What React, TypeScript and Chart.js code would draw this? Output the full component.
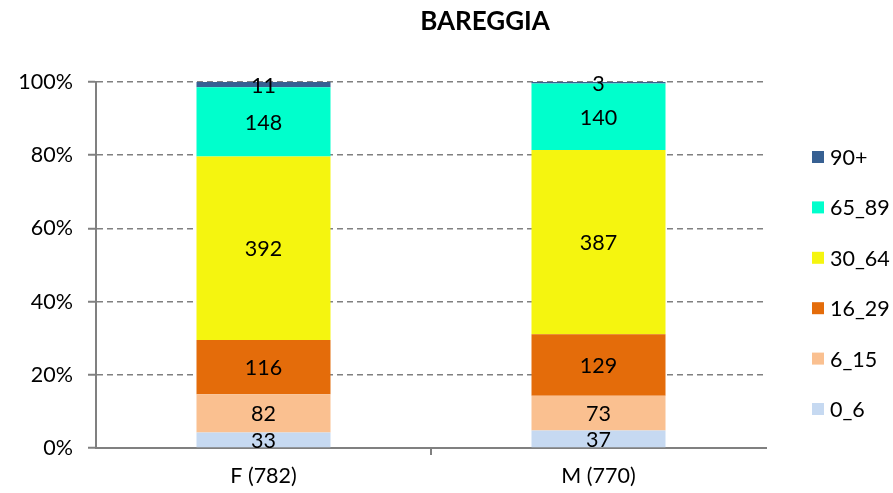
import React, { useEffect, useRef } from 'react';
import { Chart, registerables } from 'chart.js';

Chart.register(...registerables);

const chartTitle = 'BAREGGIA';
const categories = ['F (782)', 'M (770)'];
const seriesNames = ['0_6', '6_15', '16_29', '30_64', '65_89', '90+'];
const v0_6 = [33, 37];
const v6_15 = [82, 73];
const v16_29 = [116, 129];
const v30_64 = [392, 387];
const v65_89 = [148, 140];
const v90 = [11, 3];
const yTickValues = [0, 20, 40, 60, 80, 100];
const seriesColors = ['#C6D9F1', '#FAC090', '#E46C0A', '#F5F50F', '#00FFCC', '#376092'];

const FONT = 'Lato, "Open Sans", sans-serif';

export default function App() {
  const ref = useRef<HTMLCanvasElement | null>(null);

  useEffect(() => {
    const canvas = ref.current;
    if (!canvas) return;
    const seriesValues = [v0_6, v6_15, v16_29, v30_64, v65_89, v90];
    const totals = categories.map((_, i) => seriesValues.reduce((s, arr) => s + arr[i], 0));

    const datasets = seriesNames.map((name, k) => ({
      label: name,
      data: seriesValues[k].map((v, i) => (v / totals[i]) * 100),
      counts: seriesValues[k],
      backgroundColor: seriesColors[k],
      borderWidth: 0,
      barPercentage: 0.4,
      categoryPercentage: 1,
    }));

    const segLabels = {
      id: 'segLabels',
      afterDatasetsDraw(chart: any) {
        const ctx = chart.ctx;
        ctx.save();
        ctx.font = `21.5px ${FONT}`;
        ctx.fillStyle = '#000';
        ctx.textAlign = 'center';
        ctx.textBaseline = 'middle';
        chart.data.datasets.forEach((ds: any, di: number) => {
          const meta = chart.getDatasetMeta(di);
          meta.data.forEach((el: any, i: number) => {
            const y = (el.y + el.base) / 2;
            ctx.fillText(String(ds.counts[i]), el.x, y + 1);
          });
        });
        ctx.restore();
      },
    };

    const sideLegend = {
      id: 'sideLegend',
      afterDraw(chart: any) {
        const ctx = chart.ctx;
        const area = chart.chartArea;
        ctx.save();
        ctx.font = `21.5px ${FONT}`;
        ctx.textBaseline = 'middle';
        ctx.textAlign = 'left';
        const n = chart.data.datasets.length;
        const x0 = area.right + 46;
        const top = area.top + 75;
        const step = 50.4;
        for (let k = 0; k < n; k++) {
          const ds = chart.data.datasets[n - 1 - k];
          const cy = top + k * step;
          ctx.fillStyle = ds.backgroundColor;
          ctx.fillRect(x0, cy - 6, 12, 12);
          ctx.fillStyle = '#000';
          ctx.fillText(ds.label, x0 + 18, cy + 1);
        }
        // title
        ctx.font = `bold 26px ${FONT}`;
        ctx.textAlign = 'center';
        ctx.fillText(chartTitle, 485, 22);
        ctx.restore();
      },
    };

    const chart = new Chart(canvas, {
      type: 'bar',
      data: { labels: categories, datasets: datasets as any },
      options: {
        responsive: false,
        animation: false,
        layout: { padding: { top: 82, right: 127, left: 0, bottom: 0 } },
        plugins: {
          legend: { display: false },
          title: { display: false },
          tooltip: { enabled: false },
        },
        scales: {
          x: {
            stacked: true,
            afterFit: (s: any) => {
              s.height = 45;
            },
            grid: {
              display: true,
              drawOnChartArea: false,
              drawTicks: true,
              tickLength: 7,
              color: '#808080',
              tickColor: (c: any) => (c.index === 1 ? '#808080' : 'rgba(0,0,0,0)'),
              lineWidth: 2,
            },
            border: { display: true, color: '#808080', width: 2 },
            ticks: { color: '#000', font: { family: FONT, size: 21.5 }, padding: 8 },
          },
          y: {
            stacked: true,
            min: 0,
            max: 100,
            afterFit: (s: any) => {
              s.width = 96;
            },
            afterBuildTicks: (s: any) => {
              s.ticks = yTickValues.map((v) => ({ value: v }));
            },
            grid: {
              color: '#808080',
              lineWidth: 1.5,
              tickLength: 8,
              tickBorderDash: [],
              tickWidth: 2,
            } as any,
            border: { display: true, color: '#808080', width: 2, dash: [6, 4] } as any,
            ticks: {
              color: '#000',
              font: { family: FONT, size: 21.5 },
              padding: 15,
              callback: (v: any) => `${v}%`,
            },
          },
        },
      },
      plugins: [segLabels, sideLegend],
    });

    return () => chart.destroy();
  }, []);

  return (
    <div style={{ position: 'absolute', left: 0, top: 0, width: 893, height: 493, background: '#fff' }}>
      <canvas ref={ref} width={893} height={493} />
    </div>
  );
}
